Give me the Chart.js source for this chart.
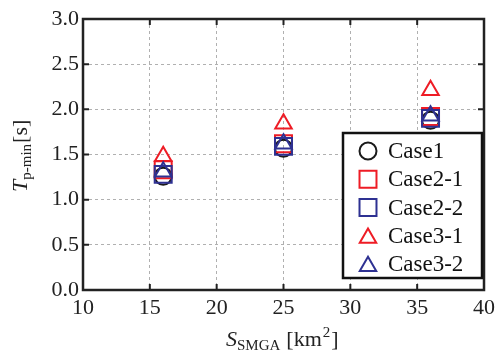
<!DOCTYPE html>
<html>
<head>
<meta charset="utf-8">
<script src="https://cdn.jsdelivr.net/npm/chart.js@4/dist/chart.umd.min.js"></script>
<style>
  html, body { margin: 0; padding: 0; background: #fff; }
  #wrap { width: 500px; height: 351px; }
</style>
</head>
<body>
<div id="wrap"><canvas id="c" width="500" height="351"></canvas></div>
<script>
// SMGA area (km^2) and minimum period Tp-min (s) per case
const areas = [16, 25, 36];
const case1 = [1.26, 1.57, 1.88];
const case2_1 = [1.33, 1.62, 1.92];
const case2_2 = [1.28, 1.59, 1.90];
const case3_1 = [1.48, 1.84, 2.21];
const case3_2 = [1.31, 1.62, 1.93];
const caseNames = ['Case1', 'Case2-1', 'Case2-2', 'Case3-1', 'Case3-2'];
const xTicks = [10, 15, 20, 25, 30, 35, 40];
const yTicks = [0.0, 0.5, 1.0, 1.5, 2.0, 2.5, 3.0];

const RED = '#ee1c25';
const BLUE = '#2e3192';
const BLACK = '#1a1a1a';
const SERIF = '"Liberation Serif", "Times New Roman", serif';

function pts(ys) { return areas.map((x, i) => ({ x: x, y: ys[i] })); }

const series = [
  { label: caseNames[0], data: pts(case1),   color: BLACK, style: 'circle',   r: 8.5 },
  { label: caseNames[1], data: pts(case2_1), color: RED,   style: 'rect',     r: 12 },
  { label: caseNames[2], data: pts(case2_2), color: BLUE,  style: 'rect',     r: 12 },
  { label: caseNames[3], data: pts(case3_1), color: RED,   style: 'triangle', r: 9.5 },
  { label: caseNames[4], data: pts(case3_2), color: BLUE,  style: 'triangle', r: 9.5 }
];

const datasets = series.map((s, i) => ({
  label: s.label,
  data: s.data,
  showLine: false,
  pointStyle: s.style,
  pointRadius: s.r,
  pointHoverRadius: s.r,
  pointBorderWidth: 2,
  pointBorderColor: s.color,
  pointBackgroundColor: 'rgba(0,0,0,0)',
  borderColor: s.color,
  backgroundColor: 'rgba(0,0,0,0)',
  order: series.length - i
}));

// Frame, inward ticks, axis titles and boxed legend
const decorations = {
  id: 'decorations',
  afterDatasetsDraw(chart) {
    const { ctx, chartArea: a, scales } = chart;
    const xs = scales.x, ys = scales.y;
    ctx.save();
    ctx.setLineDash([]);
    // inward tick marks on all four sides
    ctx.strokeStyle = '#222';
    ctx.lineWidth = 2;
    const tl = 6;
    xTicks.forEach(v => {
      const px = xs.getPixelForValue(v);
      ctx.beginPath();
      ctx.moveTo(px, a.bottom); ctx.lineTo(px, a.bottom - tl);
      ctx.moveTo(px, a.top); ctx.lineTo(px, a.top + tl);
      ctx.stroke();
    });
    yTicks.forEach(v => {
      const py = ys.getPixelForValue(v);
      ctx.beginPath();
      ctx.moveTo(a.left, py); ctx.lineTo(a.left + tl, py);
      ctx.moveTo(a.right, py); ctx.lineTo(a.right - tl, py);
      ctx.stroke();
    });
    // frame
    ctx.lineWidth = 2.5;
    ctx.strokeRect(a.left, a.top, a.right - a.left, a.bottom - a.top);

    // legend box
    const lx = 343, ly = 133, lw = 139, lh = 145;
    ctx.fillStyle = '#fff';
    ctx.fillRect(lx, ly, lw, lh);
    ctx.lineWidth = 2.5;
    ctx.strokeStyle = '#111';
    ctx.strokeRect(lx, ly, lw, lh);
    ctx.font = '23px ' + SERIF;
    ctx.textBaseline = 'middle';
    ctx.textAlign = 'left';
    series.forEach((s, i) => {
      const cy = ly + 18 + i * 28.3;
      ctx.strokeStyle = s.color;
      ctx.fillStyle = 'rgba(0,0,0,0)';
      ctx.lineWidth = 2;
      Chart.helpers.drawPoint(ctx, { pointStyle: s.style, radius: s.r, borderWidth: 2, rotation: 0 }, 368, s.style === 'triangle' ? cy + 2 : cy);
      ctx.fillStyle = '#111';
      ctx.fillText(s.label, 388, cy + 1);
    });

    // x axis title: S_SMGA [km^2]
    ctx.fillStyle = '#222';
    ctx.textBaseline = 'alphabetic';
    let x = 226, y = 346;
    ctx.font = 'italic 22px ' + SERIF;
    ctx.fillText('S', x, y); x += ctx.measureText('S').width;
    ctx.font = '15px ' + SERIF;
    ctx.fillText('SMGA', x, y + 4); x += ctx.measureText('SMGA').width + 6;
    ctx.font = '22px ' + SERIF;
    ctx.fillText('[km', x, y); x += ctx.measureText('[km').width;
    ctx.font = '15px ' + SERIF;
    ctx.fillText('2', x + 1, y - 9); x += ctx.measureText('2').width + 2;
    ctx.font = '22px ' + SERIF;
    ctx.fillText(']', x, y);

    // y axis title: T_p-min [s]
    ctx.translate(27, 192);
    ctx.rotate(-Math.PI / 2);
    x = 0; y = 0;
    ctx.font = 'italic 22px ' + SERIF;
    ctx.fillText('T', x, y); x += ctx.measureText('T').width;
    ctx.font = '15px ' + SERIF;
    ctx.fillText('p-min', x, y + 4); x += ctx.measureText('p-min').width + 1;
    ctx.font = '22px ' + SERIF;
    ctx.fillText('[s]', x, y);
    ctx.restore();
  }
};

new Chart(document.getElementById('c'), {
  type: 'scatter',
  data: { datasets: datasets },
  options: {
    responsive: false,
    animation: false,
    devicePixelRatio: 1,
    layout: { padding: { top: 19, right: 10, left: 0, bottom: 0 } },
    plugins: { legend: { display: false }, tooltip: { enabled: false } },
    scales: {
      x: {
        type: 'linear',
        min: 10, max: 40,
        afterBuildTicks: s => { s.ticks = xTicks.map(v => ({ value: v })); },
        afterFit: s => { s.height = 61; },
        border: { display: false, dash: [3, 3] },
        grid: { color: '#b0b0b0', lineWidth: 1, drawTicks: false },
        ticks: {
          padding: 5,
          color: '#222',
          font: { family: SERIF, size: 22 },
          maxRotation: 0,
          callback: v => String(v)
        }
      },
      y: {
        type: 'linear',
        min: 0, max: 3,
        afterBuildTicks: s => { s.ticks = yTicks.map(v => ({ value: v })); },
        afterFit: s => { s.width = 83; },
        border: { display: false, dash: [3, 3] },
        grid: { color: '#b0b0b0', lineWidth: 1, drawTicks: false },
        ticks: {
          padding: 4,
          color: '#222',
          font: { family: SERIF, size: 22 },
          callback: v => v.toFixed(1)
        }
      }
    }
  },
  plugins: [decorations]
});
</script>
</body>
</html>
